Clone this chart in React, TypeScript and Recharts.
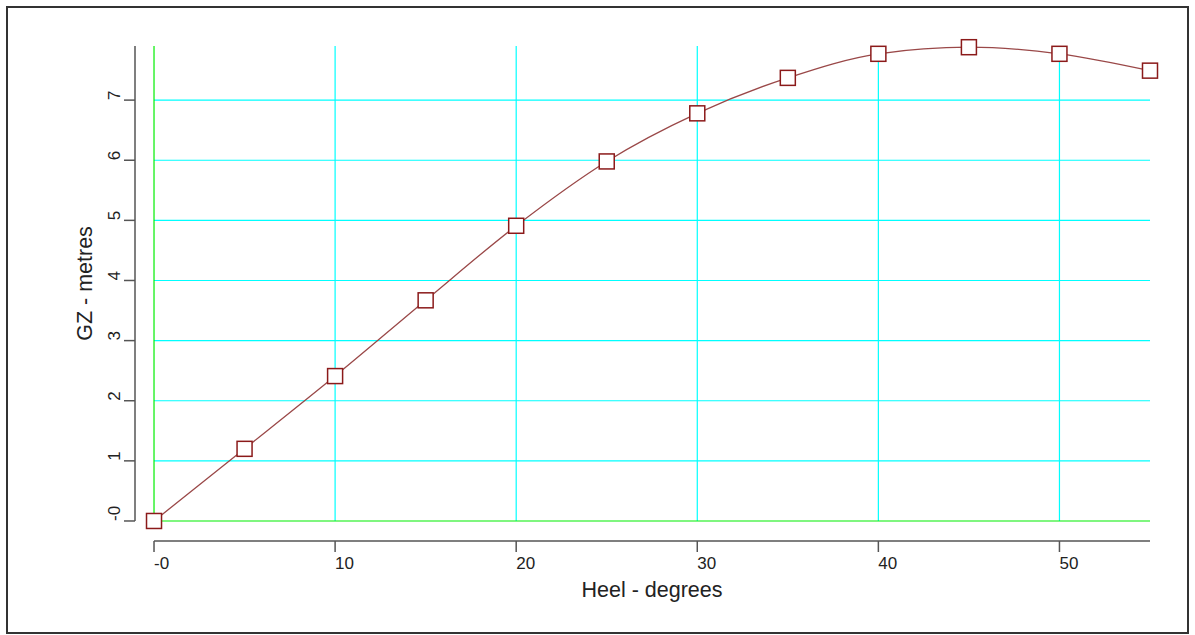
import React from 'react';
import { LineChart, Line, XAxis, YAxis, ReferenceLine } from 'recharts';

// heel angle (degrees) and righting lever GZ (metres)
const heelDegrees = [0, 5, 10, 15, 20, 25, 30, 35, 40, 45, 50, 55];
const gzMetres = [0, 1.2, 2.41, 3.67, 4.91, 5.98, 6.78, 7.37, 7.77, 7.88, 7.77, 7.49];

const xTicks = [0, 10, 20, 30, 40, 50];
const yTicks = [0, 1, 2, 3, 4, 5, 6, 7];

// axis extents (R-style offset axes)
const X_MIN = -1.05;
const X_MAX = 55;
const Y_MIN = -0.333;
const Y_MAX = 7.9;

const data = heelDegrees.map((h, i) => ({ heel: h, gz: gzMetres[i] }));

const FONT = '"Liberation Sans", Arial, sans-serif';
const AXIS_COLOR = '#555';

const fmt = (v: number) => (v === 0 ? '-0' : String(v));

const XTick = (props: any) => {
  const { x, y, payload } = props;
  return (
    <text x={x} y={y + 15} textAnchor="start" fontSize={17} fontFamily={FONT} fill="#222">
      {fmt(payload.value)}
    </text>
  );
};

const YTick = (props: any) => {
  const { x, y, payload } = props;
  const tx = x - 2;
  return (
    <text
      x={tx}
      y={y}
      transform={`rotate(-90, ${tx}, ${y})`}
      textAnchor="start"
      fontSize={17}
      fontFamily={FONT}
      fill="#222"
    >
      {fmt(payload.value)}
    </text>
  );
};

// square marker, white inside
const SquareDot = (props: any) => {
  const { cx, cy } = props;
  if (cx == null || cy == null) return null;
  return (
    <rect x={cx - 7.5} y={cy - 7.5} width={15} height={15} fill="#fff" stroke="#8b1a1a" strokeWidth={1.5} />
  );
};

const XTitle = (props: any) => {
  const { viewBox } = props;
  // centre of the 0..55 span
  const cx = viewBox.x + ((27.5 - X_MIN) / (X_MAX - X_MIN)) * viewBox.width;
  return (
    <text x={cx} y={viewBox.y + 56} textAnchor="middle" fontSize={21.5} fontFamily={FONT} fill="#222">
      Heel - degrees
    </text>
  );
};

const YTitle = (props: any) => {
  const { viewBox } = props;
  const cy = viewBox.y + ((Y_MAX - 3.95) / (Y_MAX - Y_MIN)) * viewBox.height;
  const tx = viewBox.x + 17;
  return (
    <text
      x={tx}
      y={cy}
      transform={`rotate(-90, ${tx}, ${cy})`}
      textAnchor="middle"
      fontSize={21.5}
      fontFamily={FONT}
      fill="#222"
    >
      GZ - metres
    </text>
  );
};

export default function App() {
  return (
    <div style={{ position: 'absolute', left: 0, top: 0, width: 1195, height: 635, background: '#fff' }}>
      <div
        style={{
          position: 'absolute',
          left: 6,
          top: 6,
          width: 1183,
          height: 628,
          border: '2px solid #333',
          boxSizing: 'border-box',
        }}
      />
      <div style={{ position: 'absolute', left: 0, top: 0 }}>
        <LineChart
          width={1195}
          height={635}
          data={data}
          margin={{ top: 46, right: 45, left: 75, bottom: 64 }}
        >
          <XAxis
            type="number"
            dataKey="heel"
            domain={[X_MIN, X_MAX]}
            ticks={xTicks}
            interval={0}
            height={30}
            axisLine={false}
            tickLine={{ stroke: AXIS_COLOR, strokeWidth: 1.5 }}
            tickSize={11}
            tick={<XTick />}
            label={<XTitle />}
          />
          <YAxis
            type="number"
            domain={[Y_MIN, Y_MAX]}
            ticks={yTicks}
            interval={0}
            width={60}
            axisLine={false}
            tickLine={{ stroke: AXIS_COLOR, strokeWidth: 1.5 }}
            tickSize={11}
            tick={<YTick />}
            label={<YTitle />}
          />

          {/* cyan grid */}
          {yTicks.filter((v) => v !== 0).map((v) => (
            <ReferenceLine
              key={`h${v}`}
              segment={[{ x: 0, y: v }, { x: X_MAX, y: v }]}
              stroke="#00ffff"
              strokeWidth={1.2}
              ifOverflow="visible"
            />
          ))}
          {xTicks.filter((v) => v !== 0).map((v) => (
            <ReferenceLine
              key={`v${v}`}
              segment={[{ x: v, y: 0 }, { x: v, y: Y_MAX }]}
              stroke="#00ffff"
              strokeWidth={1.2}
              ifOverflow="visible"
            />
          ))}
          {/* green zero lines */}
          <ReferenceLine segment={[{ x: 0, y: 0 }, { x: X_MAX, y: 0 }]} stroke="#00ee00" strokeWidth={1.2} ifOverflow="visible" />
          <ReferenceLine segment={[{ x: 0, y: 0 }, { x: 0, y: Y_MAX }]} stroke="#00ee00" strokeWidth={1.2} ifOverflow="visible" />

          {/* offset axis lines */}
          <ReferenceLine segment={[{ x: 0, y: Y_MIN }, { x: X_MAX, y: Y_MIN }]} stroke={AXIS_COLOR} strokeWidth={1.5} ifOverflow="visible" />
          <ReferenceLine segment={[{ x: X_MIN, y: 0 }, { x: X_MIN, y: Y_MAX }]} stroke={AXIS_COLOR} strokeWidth={1.5} ifOverflow="visible" />

          <Line
            type="monotone"
            dataKey="gz"
            stroke="#9a4848"
            strokeWidth={1.3}
            dot={<SquareDot />}
            activeDot={false}
            isAnimationActive={false}
          />
        </LineChart>
      </div>
    </div>
  );
}
